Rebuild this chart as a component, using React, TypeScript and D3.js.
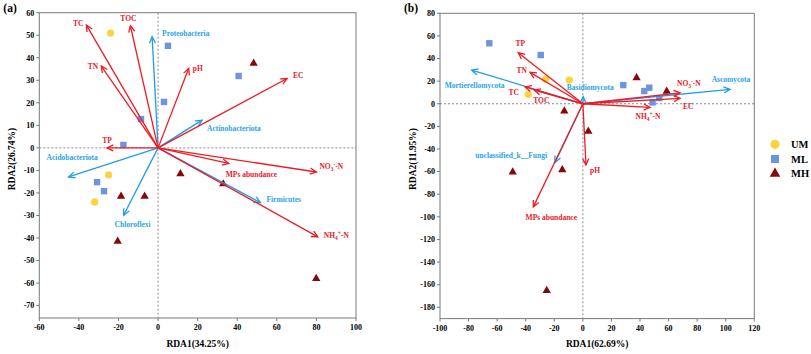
import * as d3 from 'd3';

type Pt = [number, number];
type Vec = { name: string; x: number; y: number };

// ---- panel (a): bacteria ----
const umA: Pt[] = [[-24, 51], [-25, -12], [-32, -24]];
const mlA: Pt[] = [[5, 45.3], [3, 20.4], [-8.6, 12.8], [-17.5, 1.3], [40.7, 31.9], [-30.8, -15.2], [-27.3, -19.2]];
const mhA: Pt[] = [[48.3, 37.5], [-18.7, -21.5], [-6.8, -21.5], [-20.4, -41.5], [11.3, -11.5], [32.9, -16], [79.9, -58]];

const envA: Vec[] = [
  { name: 'TC', x: -36.2, y: 54.5 },
  { name: 'TOC', x: -14, y: 54.2 },
  { name: 'TN', x: -28.7, y: 36.3 },
  { name: 'pH', x: 15.5, y: 35.3 },
  { name: 'EC', x: 65.2, y: 30.8 },
  { name: 'TP', x: -25.8, y: 0 },
  { name: 'NO3', x: 80, y: -10.7 },
  { name: 'MPs abundance', x: 35.7, y: -6.9 },
  { name: 'NH4', x: 80.7, y: -39.5 },
];
const taxaA: Vec[] = [
  { name: 'Proteobacteria', x: -3, y: 49.3 },
  { name: 'Actinobacteriota', x: 22.2, y: 12.3 },
  { name: 'Acidobacteriota', x: -45.2, y: -12.9 },
  { name: 'Chloroflexi', x: -17.4, y: -29.9 },
  { name: 'Firmicutes', x: 51.7, y: -24.3 },
];

// ---- panel (b): fungi ----
const umB: Pt[] = [[-26, 21.9], [-9.5, 21], [-38.2, 8.3]];
const mlB: Pt[] = [[-65.5, 53.5], [-29.5, 43.1], [28.3, 16.5], [46.5, 14.2], [43, 11.2], [53.5, 5], [48.8, 1.2]];
const mhB: Pt[] = [[37.6, 23], [58.7, 11], [-13, -6.5], [3.8, -24.3], [-49.1, -60.5], [-14.4, -58.5], [-25.3, -165.3]];

const envB: Vec[] = [
  { name: 'TP', x: -45.2, y: 45.1 },
  { name: 'TN', x: -37, y: 27.8 },
  { name: 'TC', x: -40.5, y: 15 },
  { name: 'TOC', x: -34, y: 12.1 },
  { name: 'NO3', x: 68, y: 9.7 },
  { name: 'EC', x: 68, y: 4.8 },
  { name: 'NH4', x: 47, y: -3.2 },
  { name: 'pH', x: 2.2, y: -54.2 },
  { name: 'MPs abundance', x: -34.7, y: -91.2 },
];
const taxaB: Vec[] = [
  { name: 'Mortierellomycota', x: -77.8, y: 29.8 },
  { name: 'Basidiomycota', x: 0.3, y: 6.2 },
  { name: 'Ascomycota', x: 103, y: 12.7 },
  { name: 'unclassified_k__Fungi', x: -19.5, y: -51.9 },
];

const xTicksA = [-60, -40, -20, 0, 20, 40, 60, 80, 100];
const yTicksA = [-70, -60, -50, -40, -30, -20, -10, 0, 10, 20, 30, 40, 50, 60];
const xTicksB = [-100, -80, -60, -40, -20, 0, 20, 40, 60, 80, 100, 120];
const yTicksB = [-180, -160, -140, -120, -100, -80, -60, -40, -20, 0, 20, 40, 60, 80];

const groups = ['UM', 'ML', 'MH'];

// label placement: [anchor, dx, dy] relative to arrow tip (px)
type Place = ['start' | 'middle' | 'end', number, number];
const placeA: Record<string, Place> = {
  TC: ['end', -3, -2], TOC: ['middle', -2, -7], TN: ['end', -3, 0], pH: ['start', 4, 0],
  EC: ['start', 6, -3], TP: ['middle', 0, -8], NO3: ['start', 3, -6],
  'MPs abundance': ['start', -3, 11], NH4: ['start', 6, -2],
  Proteobacteria: ['start', 10, -3], Actinobacteriota: ['start', 5, 8],
  Acidobacteriota: ['start', -22, -20], Chloroflexi: ['middle', 9, 9], Firmicutes: ['start', 6, -3],
};
const placeB: Record<string, Place> = {
  TP: ['middle', 2, -9], TN: ['end', -3, -2], TC: ['end', -6, 6], TOC: ['middle', 7, 10],
  NO3: ['start', -3, -9], EC: ['start', 3, 8], NH4: ['middle', -2, 9], pH: ['start', 4, 5],
  'MPs abundance': ['middle', 18, 10],
  Mortierellomycota: ['start', -27, 15], Basidiomycota: ['middle', 7, -9],
  Ascomycota: ['middle', 1, -10], unclassified_k__Fungi: ['end', -8, -7],
};

const RED = '#ee1c24';
const RED_TXT = '#e8202a';
const BLUE = '#1e9de6';
const BLUE_TXT = '#2aa4e8';
const YEL = '#fdd33c';
const SQ = '#6b96dd';
const TRI = '#860808';
const AXIS = '#7a7a7a';
const FONT = '"Liberation Serif", "Times New Roman", serif';

const triPath = (size: number) => d3.symbol().type(d3.symbolTriangle).size(size)() as string;

function head(x1: number, y1: number, x2: number, y2: number, len = 7, ang = 0.45) {
  const a = Math.atan2(y2 - y1, x2 - x1);
  const p = d3.path();
  p.moveTo(x2 - len * Math.cos(a - ang), y2 - len * Math.sin(a - ang));
  p.lineTo(x2, y2);
  p.lineTo(x2 - len * Math.cos(a + ang), y2 - len * Math.sin(a + ang));
  return p.toString();
}

function Label({ name }: { name: string }) {
  if (name === 'NO3')
    return <>NO<tspan fontSize="5.5" dy="2">3</tspan><tspan fontSize="5.5" dy="-5">-</tspan><tspan dy="3">-N</tspan></>;
  if (name === 'NH4')
    return <>NH<tspan fontSize="5.5" dy="2">4</tspan><tspan fontSize="5.5" dy="-5">+</tspan><tspan dy="3">-N</tspan></>;
  return <>{name}</>;
}

interface PanelProps {
  tag: string;
  xr: [number, number];
  yr: [number, number];
  xDom: [number, number];
  yDom: [number, number];
  xTicks: number[];
  yTicks: number[];
  xTitle: string;
  yTitle: string;
  um: Pt[];
  ml: Pt[];
  mh: Pt[];
  env: Vec[];
  taxa: Vec[];
  place: Record<string, Place>;
}

function Panel(p: PanelProps) {
  const x = d3.scaleLinear().domain(p.xDom).range(p.xr);
  const y = d3.scaleLinear().domain(p.yDom).range(p.yr);
  const [L, R] = p.xr;
  const [B, T] = p.yr;
  const ox = x(0);
  const oy = y(0);
  const tri = triPath(30);

  const arrow = (v: Vec, color: string, txt: string, key: string) => {
    const tx = x(v.x);
    const ty = y(v.y);
    const [anchor, dx, dy] = p.place[v.name] || ['start', 4, 0];
    return (
      <g key={key}>
        <line x1={ox} y1={oy} x2={tx} y2={ty} stroke={color} strokeWidth={1.3} />
        <path d={head(ox, oy, tx, ty)} fill="none" stroke={color} strokeWidth={1.3} />
        <text x={tx + dx} y={ty + dy} dy="0.35em" textAnchor={anchor} fill={txt}
          fontSize={7.5} fontWeight="bold" fontFamily={FONT}>
          <Label name={v.name} />
        </text>
      </g>
    );
  };

  return (
    <g fontFamily={FONT}>
      <text x={L - 36} y={12} fontSize={11.5} fontWeight="bold">{p.tag}</text>
      {/* zero lines */}
      <line x1={ox} x2={ox} y1={T} y2={B} stroke="#888" strokeDasharray="2,2" />
      <line x1={L} x2={R} y1={oy} y2={oy} stroke="#888" strokeDasharray="2,2" />

      {/* samples */}
      {p.um.map((d, i) => <circle key={'u' + i} cx={x(d[0])} cy={y(d[1])} r={3.6} fill={YEL} />)}
      {p.ml.map((d, i) => <rect key={'m' + i} x={x(d[0]) - 3.2} y={y(d[1]) - 3.2} width={6.4} height={6.4} fill={SQ} />)}
      {p.mh.map((d, i) => <path key={'h' + i} d={tri} transform={`translate(${x(d[0])},${y(d[1])})`} fill={TRI} />)}

      {/* arrows */}
      {p.taxa.map((v, i) => arrow(v, BLUE, BLUE_TXT, 't' + i))}
      {p.env.map((v, i) => arrow(v, RED, RED_TXT, 'e' + i))}

      {/* frame */}
      <rect x={L} y={T} width={R - L} height={B - T} fill="none" stroke={AXIS} strokeWidth={1} />
      {p.yTicks.map(t => (
        <g key={'yt' + t}>
          <line x1={L - 3} x2={L} y1={y(t)} y2={y(t)} stroke={AXIS} />
          <text x={L - 5} y={y(t)} dy="0.35em" textAnchor="end" fontSize={8} fontWeight="bold">{t}</text>
        </g>
      ))}
      {p.xTicks.map(t => (
        <g key={'xt' + t}>
          <line x1={x(t)} x2={x(t)} y1={B} y2={B + 3} stroke={AXIS} />
          <text x={x(t)} y={B + 12} textAnchor="middle" fontSize={8} fontWeight="bold">{t}</text>
        </g>
      ))}
      <text x={(L + R) / 2} y={347} textAnchor="middle" fontSize={9.5} fontWeight="bold">{p.xTitle}</text>
      <text transform={`translate(${L - 24},159) rotate(-90)`} textAnchor="middle" fontSize={9.5} fontWeight="bold">{p.yTitle}</text>
    </g>
  );
}

export default function App() {
  const legY = d3.scalePoint<string>().domain(groups).range([144.3, 173.7]);
  return (
    <svg width={811} height={354} style={{ position: 'absolute', left: 0, top: 0, background: '#fff' }}>
      <Panel tag="(a)" xr={[39.3, 356]} yr={[318, 12.7]} xDom={[-60, 100]} yDom={[-75.5, 60]}
        xTicks={xTicksA} yTicks={yTicksA} xTitle="RDA1(34.25%)" yTitle="RDA2(26.74%)"
        um={umA} ml={mlA} mh={mhA} env={envA} taxa={taxaA} place={placeA} />
      <Panel tag="(b)" xr={[440, 754.3]} yr={[318.6, 13.3]} xDom={[-100, 120]} yDom={[-190, 80]}
        xTicks={xTicksB} yTicks={yTicksB} xTitle="RDA1(62.69%)" yTitle="RDA2(11.95%)"
        um={umB} ml={mlB} mh={mhB} env={envB} taxa={taxaB} place={placeB} />
      <g fontFamily={FONT}>
        <circle cx={775} cy={legY('UM')} r={4.6} fill={YEL} />
        <rect x={771} y={(legY('ML') as number) - 4} width={8} height={8} fill={SQ} />
        <path d={triPath(48)} transform={`translate(775,${legY('MH')})`} fill={TRI} />
        {groups.map(g => (
          <text key={g} x={791} y={legY(g)} dy="0.35em" fontSize={10.5} fontWeight="bold">{g}</text>
        ))}
      </g>
    </svg>
  );
}
